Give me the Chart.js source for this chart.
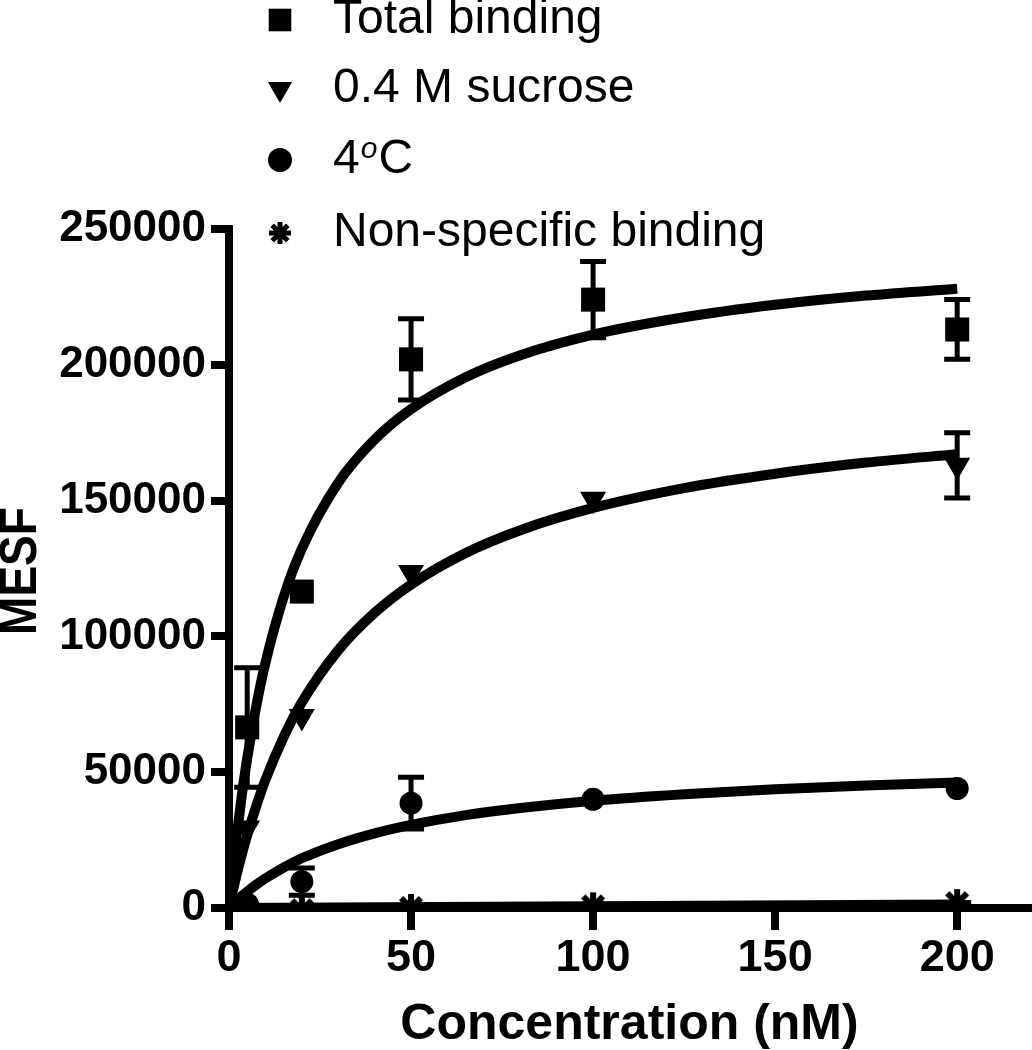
<!DOCTYPE html>
<html>
<head>
<meta charset="utf-8">
<title>Binding curves</title>
<script src="https://cdn.jsdelivr.net/npm/chart.js@4.4.1/dist/chart.umd.min.js"></script>
<style>
  html, body { margin: 0; padding: 0; background: #fff; }
  #wrap { position: relative; width: 1032px; height: 1050px; }
</style>
</head>
<body>
<div id="wrap"><canvas id="bindingChart" width="1032" height="1050"></canvas></div>
<script>
// measured points (mean +/- error), concentration in nM
const concentrations = [5, 20, 50, 100, 200];
const totalBinding = [66500, 116500, 202000, 224000, 213000];
const totalErr = [22000, 3500, 15000, 14000, 11000];
const sucrose = [29500, 70500, 123500, 150500, 163000];
const sucroseErr = [2000, 2000, 2500, 2500, 12000];
const cold = [1500, 9700, 38600, 40000, 44000];
const coldErr = [1000, 5000, 9500, 1500, 1500];
const nonSpecific = [-800, -800, 0, 600, 1800];

// fitted curves
const curveX = [0, 1, 2, 3.5, 5, 7.5, 10, 15, 20, 30, 40, 50, 65, 80, 100, 125, 150, 175, 200];
const totalFit = [0, 13400, 25400, 41300, 55100, 74400, 90200, 114500, 132300, 156600, 172500, 183700, 195400, 203500, 211100, 217500, 222100, 225500, 228000];
const sucroseFit = [0, 6000, 11700, 19600, 26800, 37600, 47100, 62900, 75700, 94900, 108700, 119100, 130700, 139100, 147300, 154600, 159900, 164000, 167100];
const coldFit = [0, 1360, 2590, 4380, 6050, 8610, 10900, 14900, 18300, 23500, 27500, 30600, 34200, 36800, 39500, 41900, 43700, 45100, 46200];
const nsbFitX = [0, 200];
const nsbFit = [0, 1300];

const seriesLabels = ['Total binding', '0.4 M sucrose', '4\u00b0C', 'Non-specific binding'];
const yTicks = [0, 50000, 100000, 150000, 200000, 250000];
const xTicks = [0, 50, 100, 150, 200];

const pts = (xs, ys) => xs.map((x, i) => ({ x, y: ys[i] }));

// filled asterisk symbol
function makeAsterisk(size, lw) {
  const c = document.createElement('canvas');
  c.width = size; c.height = size;
  const g = c.getContext('2d');
  const r = size / 2;
  g.translate(r, r);
  g.strokeStyle = '#000';
  g.lineWidth = lw;
  for (let k = 0; k < 4; k++) {
    const a = k * Math.PI / 4;
    g.beginPath();
    g.moveTo(-Math.cos(a) * (r - 1), -Math.sin(a) * (r - 1));
    g.lineTo(Math.cos(a) * (r - 1), Math.sin(a) * (r - 1));
    g.stroke();
  }
  g.beginPath();
  g.arc(0, 0, r * 0.5, 0, Math.PI * 2);
  g.fillStyle = '#000';
  g.fill();
  return c;
}
const asterisk = makeAsterisk(30, 6);
const asteriskSmall = makeAsterisk(24, 5);

const markers = [
  { pointStyle: 'rect', radius: 17, rotation: 0 },
  { pointStyle: 'triangle', radius: 15, rotation: 180 },
  { pointStyle: 'circle', radius: 11.5, rotation: 0 },
  { pointStyle: asterisk, radius: 15, rotation: 0 }
];

function pointSet(label, ys, errs, m) {
  return {
    type: 'scatter',
    label,
    data: pts(concentrations, ys),
    errors: errs,
    pointStyle: m.pointStyle,
    pointRadius: m.radius,
    pointRotation: m.rotation,
    pointBackgroundColor: '#000',
    pointBorderColor: '#000',
    pointBorderWidth: 0,
    showLine: false
  };
}

function curveSet(xs, ys) {
  return {
    type: 'line',
    data: pts(xs, ys),
    borderColor: '#000',
    borderWidth: 10,
    pointRadius: 0,
    fill: false,
    cubicInterpolationMode: 'monotone'
  };
}

// error bars, hidden when shorter than the symbol (like Prism)
const errorBars = {
  id: 'errorBars',
  afterDatasetsDraw(chart) {
    const { ctx, scales: { x, y } } = chart;
    ctx.save();
    ctx.strokeStyle = '#000';
    ctx.lineWidth = 5;
    chart.data.datasets.forEach(ds => {
      if (!ds.errors) return;
      ds.data.forEach((p, j) => {
        const e = ds.errors[j];
        const px = x.getPixelForValue(p.x);
        const cy = y.getPixelForValue(p.y);
        const top = y.getPixelForValue(p.y + e);
        const bot = y.getPixelForValue(p.y - e);
        if (cy - top < 11) return;
        ctx.beginPath();
        ctx.moveTo(px, top); ctx.lineTo(px, bot);
        ctx.moveTo(px - 13, top); ctx.lineTo(px + 13, top);
        ctx.moveTo(px - 13, bot); ctx.lineTo(px + 13, bot);
        ctx.stroke();
      });
    });
    ctx.restore();
  }
};

// legend in the top-left corner and the rotated y title
const decorations = {
  id: 'decorations',
  afterDraw(chart) {
    const ctx = chart.ctx;
    ctx.save();
    ctx.fillStyle = '#000';
    ctx.strokeStyle = '#000';

    const rowY = [20, 89, 160, 233];
    const legendMarkers = [
      { pointStyle: 'rect', radius: 16, rotation: 0 },
      { pointStyle: 'triangle', radius: 14, rotation: 180 },
      { pointStyle: 'circle', radius: 12, rotation: 0 },
      { pointStyle: asteriskSmall, radius: 12, rotation: 0 }
    ];
    seriesLabels.forEach((label, i) => {
      const m = legendMarkers[i];
      Chart.helpers.drawPoint(ctx, { pointStyle: m.pointStyle, radius: m.radius, rotation: m.rotation, borderWidth: 0 }, 280, rowY[i]);
      ctx.font = '48px "Liberation Sans", Arial, sans-serif';
      ctx.textBaseline = 'middle';
      ctx.textAlign = 'left';
      if (label.includes('\u00b0')) {
        const [a, b] = label.split('\u00b0');
        let tx = 333;
        ctx.fillText(a, tx, rowY[i]);
        tx += ctx.measureText(a).width + 1;
        ctx.font = 'italic 30px "Liberation Sans", Arial, sans-serif';
        ctx.fillText('o', tx, rowY[i] - 10);
        tx += ctx.measureText('o').width + 1;
        ctx.font = '48px "Liberation Sans", Arial, sans-serif';
        ctx.fillText(b, tx, rowY[i]);
      } else {
        ctx.fillText(label, 333, rowY[i]);
      }
    });

    // y axis title
    ctx.translate(22, 571);
    ctx.rotate(-Math.PI / 2);
    ctx.scale(1, 1.12);
    ctx.font = 'bold 46px "Liberation Sans", Arial, sans-serif';
    ctx.textAlign = 'center';
    ctx.textBaseline = 'middle';
    ctx.fillText('MESF', 0, 0);
    ctx.restore();
  }
};

new Chart(document.getElementById('bindingChart'), {
  data: {
    datasets: [
      pointSet(seriesLabels[0], totalBinding, totalErr, markers[0]),
      pointSet(seriesLabels[1], sucrose, sucroseErr, markers[1]),
      pointSet(seriesLabels[2], cold, coldErr, markers[2]),
      pointSet(seriesLabels[3], nonSpecific, null, markers[3]),
      curveSet(curveX, totalFit),
      curveSet(curveX, sucroseFit),
      curveSet(curveX, coldFit),
      curveSet(nsbFitX, nsbFit)
    ]
  },
  options: {
    responsive: false,
    animation: false,
    devicePixelRatio: 1,
    layout: { autoPadding: false, padding: { top: 229, right: 2, left: 0, bottom: 0 } },
    plugins: { legend: { display: false }, tooltip: { enabled: false } },
    scales: {
      x: {
        type: 'linear',
        min: 0,
        max: 220,
        afterFit: s => { s.height = 142; s.paddingRight = 0; },
        afterBuildTicks: s => { s.ticks = xTicks.map(v => ({ value: v })); },
        ticks: {
          color: '#000',
          padding: 2,
          font: { family: '"Liberation Sans", Arial, sans-serif', size: 45, weight: 'bold' }
        },
        grid: { drawOnChartArea: false, drawTicks: true, tickLength: 22, tickWidth: 8, lineWidth: 8, tickColor: '#000' },
        border: { display: true, width: 8, color: '#000' },
        title: {
          display: true,
          text: 'Concentration (nM)',
          color: '#000',
          padding: { top: 0, bottom: -5 },
          font: { family: '"Liberation Sans", Arial, sans-serif', size: 50, weight: 'bold' }
        }
      },
      y: {
        type: 'linear',
        min: 0,
        max: 250000,
        afterFit: s => { s.width = 229; },
        afterBuildTicks: s => { s.ticks = yTicks.map(v => ({ value: v })); },
        ticks: {
          color: '#000',
          padding: 5,
          callback: v => String(v),
          font: { family: '"Liberation Sans", Arial, sans-serif', size: 44, weight: 'bold' }
        },
        grid: { drawOnChartArea: false, drawTicks: true, tickLength: 18, tickWidth: 8, lineWidth: 8, tickColor: '#000' },
        border: { display: true, width: 8, color: '#000' }
      }
    }
  },
  plugins: [errorBars, decorations]
});
</script>
</body>
</html>
